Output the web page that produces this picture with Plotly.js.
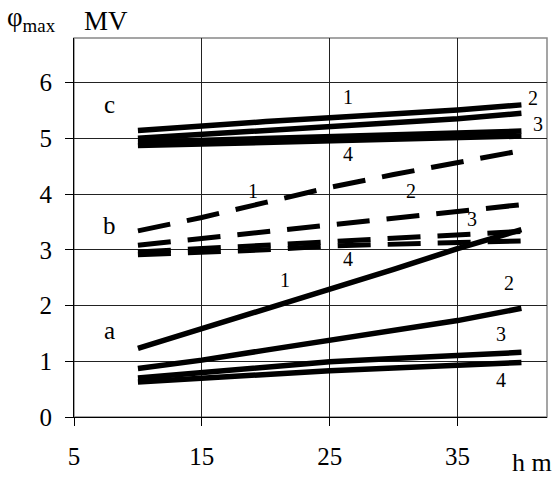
<!DOCTYPE html>
<html><head><meta charset="utf-8">
<script src="https://cdn.plot.ly/plotly-3.0.1.min.js"></script>
<style>html,body{margin:0;padding:0;background:#fff;}</style>
</head><body><div id="chart" style="width:558px;height:478px;"></div>
<script>
// Height h (m)
const h = [10, 15, 20, 25, 30, 35, 40];
// Group a (solid)
const a1 = [1.23, 1.58, 1.93, 2.28, 2.65, 3.02, 3.36];
const a2 = [0.87, 1.02, 1.20, 1.38, 1.55, 1.73, 1.95];
const a3 = [0.70, 0.80, 0.90, 0.99, 1.05, 1.11, 1.16];
const a4 = [0.63, 0.70, 0.77, 0.83, 0.88, 0.93, 0.98];
// Group b (dashed)
const b1 = [3.34, 3.58, 3.85, 4.12, 4.35, 4.56, 4.78];
const b2 = [3.08, 3.20, 3.34, 3.46, 3.56, 3.68, 3.81];
const b3 = [2.96, 3.02, 3.09, 3.16, 3.22, 3.28, 3.33];
const b4 = [2.91, 2.95, 3.00, 3.07, 3.10, 3.14, 3.16];
// Group c (solid)
const c1 = [5.14, 5.23, 5.30, 5.37, 5.43, 5.51, 5.60];
const c2 = [5.00, 5.07, 5.13, 5.19, 5.27, 5.35, 5.45];
const c3 = [4.93, 4.96, 4.99, 5.02, 5.06, 5.10, 5.13];
const c4 = [4.87, 4.90, 4.93, 4.96, 4.99, 5.02, 5.04];

const xTicks = [5, 15, 25, 35];
const yTicks = [0, 1, 2, 3, 4, 5, 6];

const solid = {color: '#000', width: 5.5};
const dashed = {color: '#000', width: 5, dash: '33px,17px'};

const series = [
  [a1, solid], [a2, solid], [a3, solid], [a4, solid],
  [b1, dashed], [b2, dashed], [b3, dashed], [b4, dashed],
  [c1, solid], [c2, solid], [c3, solid], [c4, solid]
];
const traces = series.map(([y, line]) => ({
  x: h, y: y, type: 'scatter', mode: 'lines', line: line,
  hoverinfo: 'skip', showlegend: false
}));

const F = 'Liberation Serif';
function lab(text, x, y, size) {
  return {text: text, x: x, y: y, xref: 'x', yref: 'y', showarrow: false,
    font: {family: F, size: size, color: '#000'}, xanchor: 'center', yanchor: 'middle'};
}
const annotations = [
  lab('c', 7.8, 5.6, 25), lab('b', 7.8, 3.43, 25), lab('a', 7.8, 1.55, 25),
  lab('1', 26.4, 5.74, 20), lab('2', 40.9, 5.73, 20), lab('3', 41.3, 5.26, 20), lab('4', 26.4, 4.71, 20),
  lab('1', 19.0, 4.05, 20), lab('2', 31.4, 4.05, 20), lab('3', 36.1, 3.55, 20), lab('4', 26.4, 2.83, 20),
  lab('1', 21.5, 2.46, 20), lab('2', 39.0, 2.41, 20), lab('3', 38.4, 1.49, 20), lab('4', 38.4, 0.66, 20),
  {text: 'φ<sub>max</sub>', xref: 'paper', yref: 'paper', x: -0.145, y: 1.0, xanchor: 'left', yanchor: 'bottom',
   showarrow: false, font: {family: F, size: 27, color: '#000'}},
  {text: 'MV', xref: 'paper', yref: 'paper', x: 0.016, y: 1.0, xanchor: 'left', yanchor: 'bottom',
   showarrow: false, font: {family: F, size: 27, color: '#000'}},
  {text: 'h m', xref: 'paper', yref: 'paper', x: 1.015, y: -0.119, xanchor: 'right', yanchor: 'middle',
   showarrow: false, font: {family: F, size: 26, color: '#000'}}
];

const layout = {
  width: 558, height: 478,
  margin: {l: 74, r: 11, t: 38, b: 61},
  paper_bgcolor: '#fff', plot_bgcolor: '#fff',
  showlegend: false,
  font: {family: F, color: '#000'},
  xaxis: {
    range: [5, 42], tickvals: xTicks, ticktext: xTicks.map(String),
    showgrid: true, gridcolor: '#222', gridwidth: 1, zeroline: false,
    showline: true, linecolor: '#000', linewidth: 1,
    ticks: 'outside', ticklen: 8, tickcolor: '#000', tickwidth: 1,
    ticklabelstandoff: 9,
    tickfont: {family: F, size: 25, color: '#000'}
  },
  yaxis: {
    range: [0, 6.8], tickvals: yTicks, ticktext: yTicks.map(String),
    showgrid: true, gridcolor: '#222', gridwidth: 1, zeroline: false,
    showline: true, linecolor: '#000', linewidth: 1,
    ticks: 'outside', ticklen: 8, tickcolor: '#000', tickwidth: 1,
    ticklabelstandoff: 8,
    tickfont: {family: F, size: 25, color: '#000'}
  },
  shapes: [{type: 'rect', xref: 'paper', yref: 'paper', x0: 0, x1: 1, y0: 0, y1: 1,
    line: {color: '#888', width: 1.5}, layer: 'below'}],
  annotations: annotations
};

Plotly.newPlot('chart', traces, layout, {staticPlot: true, displayModeBar: false});
</script>
</body></html>
